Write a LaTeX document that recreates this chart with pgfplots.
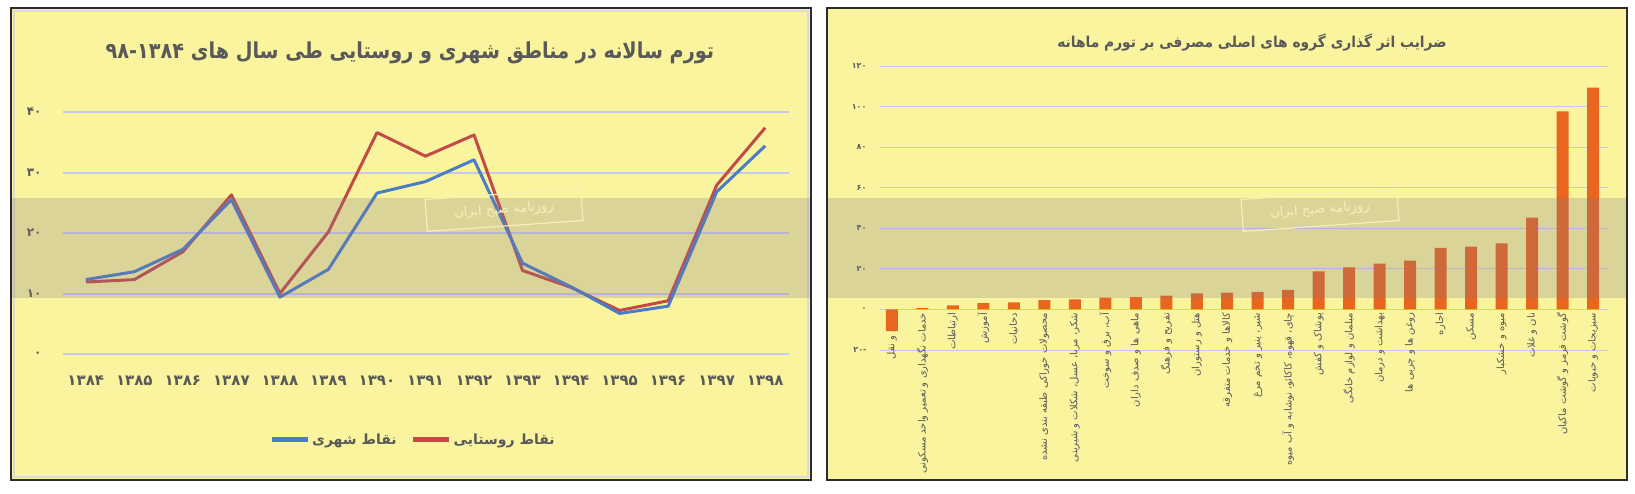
\documentclass[border=0pt]{standalone}
\usepackage{graphicx}
\usepackage{pgfplots}
\pgfplotsset{compat=1.18}
\usepackage{fontspec}
\newfontfamily\fa[Script=Arabic]{DejaVu Sans}
\TeXXeTstate=1

\definecolor{panel}{HTML}{FAF49E}
\definecolor{frame}{HTML}{2B2B2B}
\definecolor{gridc}{HTML}{C8C8EC}
\definecolor{txt}{HTML}{595959}
\definecolor{urban}{HTML}{4A7CC8}
\definecolor{rural}{HTML}{C24B48}
\definecolor{barc}{HTML}{E8661F}
\definecolor{band}{HTML}{82788C}
\definecolor{pale}{HTML}{F6F0B8}

% tick labels above the bars, grid below them
\pgfplotsset{
  layers/labels on top/.define layer set={
    axis background,axis grid,axis ticks,axis lines,pre main,main,
    axis tick labels,axis descriptions,axis foreground}{},
}

\begin{document}
\begin{tikzpicture}
% page and panels
\fill[white] (0pt,0pt) rectangle (1635pt,493pt);
\fill[panel] (11pt,13pt) rectangle (811pt,485pt);
\fill[panel] (827pt,13pt) rectangle (1627pt,485pt);
\draw[black!15, line width=1.5pt] (14pt,16pt) rectangle (808pt,482pt);

% left: annual inflation, urban vs rural
\begin{axis}[
  at={(63pt,139pt)}, anchor=south west,
  scale only axis, width=726pt, height=242pt,
  xmin=1383.53, xmax=1398.49, ymin=0, ymax=40,
  axis line style={draw=none}, tick style={draw=none},
  ymajorgrids, grid style={gridc, line width=2pt},
  xtick={1384,...,1398},
  xticklabels={۱۳۸۴,۱۳۸۵,۱۳۸۶,۱۳۸۷,۱۳۸۸,۱۳۸۹,۱۳۹۰,۱۳۹۱,۱۳۹۲,۱۳۹۳,۱۳۹۴,۱۳۹۵,۱۳۹۶,۱۳۹۷,۱۳۹۸},
  ytick={0,10,20,30,40},
  yticklabels={۰,۱۰,۲۰,۳۰,۴۰},
  xticklabel style={font=\fa\bfseries\fontsize{15}{18}\selectfont, text=txt, yshift=-18pt},
  yticklabel style={font=\fa\bfseries\fontsize{12}{14}\selectfont, text=txt, anchor=east, xshift=-18pt},
  reverse legend,
  legend columns=2,
  legend style={at={(0.482,-0.355)}, anchor=center, draw=none, fill=none,
    font=\fa\bfseries\fontsize{14}{17}\selectfont, text=txt,
    /tikz/every even column/.append style={column sep=12pt}},
  legend image code/.code={\draw[#1, line width=5pt] (0pt,0pt) -- (36pt,0pt);},
]
\addplot[rural, line width=3pt, line join=round] coordinates {
  (1384,11.9) (1385,12.3) (1386,16.9) (1387,26.3) (1388,10.0)
  (1389,20.2) (1390,36.6) (1391,32.7) (1392,36.2) (1393,13.8)
  (1394,11.0) (1395,7.2) (1396,8.8) (1397,27.9) (1398,37.4)
};
\addlegendentry{\beginR نقاط روستایی\endR}
\addplot[urban, line width=3pt, line join=round] coordinates {
  (1384,12.3) (1385,13.6) (1386,17.3) (1387,25.5) (1388,9.4)
  (1389,14.0) (1390,26.6) (1391,28.5) (1392,32.1) (1393,15.0)
  (1394,11.1) (1395,6.7) (1396,7.9) (1397,26.8) (1398,34.4)
};
\addlegendentry{\beginR نقاط شهری\endR}
\end{axis}

% right: contribution of main groups to monthly inflation
\begin{axis}[
  set layers=labels on top,
  at={(880pt,143pt)}, anchor=south west,
  scale only axis, width=728pt, height=284pt,
  xmin=-0.39, xmax=23.49, ymin=-20, ymax=120,
  axis x line*=middle, axis y line*=left,
  x axis line style={draw=gridc, line width=0.8pt},
  y axis line style={draw=none},
  hide obscured x ticks=false, hide obscured y ticks=false,
  major tick length=0pt,
  ymajorgrids, grid style={gridc, line width=0.8pt},
  ytick={-20,0,20,40,60,80,100,120},
  yticklabels={-۲۰,۰,۲۰,۴۰,۶۰,۸۰,۱۰۰,۱۲۰},
  yticklabel style={font=\fa\bfseries\fontsize{8}{10}\selectfont, text=txt, anchor=east, xshift=-10pt},
  xtick={0,...,23},
  xticklabels={
    {\beginR حمل و نقل\endR},
    {\beginR خدمات نگهداری و تعمیر واحد مسکونی\endR},
    {\beginR ارتباطات\endR},
    {\beginR آموزش\endR},
    {\beginR دخانیات\endR},
    {\beginR محصولات خوراکی طبقه بندی نشده\endR},
    {\beginR شکر، مربا، عسل، شکلات و شیرینی\endR},
    {\beginR آب، برق و سوخت\endR},
    {\beginR ماهی ها و صدف داران\endR},
    {\beginR تفریح و فرهنگ\endR},
    {\beginR هتل و رستوران\endR},
    {\beginR کالاها و خدمات متفرقه\endR},
    {\beginR شیر، پنیر و تخم مرغ\endR},
    {\beginR چای، قهوه، کاکائو، نوشابه و آب میوه\endR},
    {\beginR پوشاک و کفش\endR},
    {\beginR مبلمان و لوازم خانگی\endR},
    {\beginR بهداشت و درمان\endR},
    {\beginR روغن ها و چربی ها\endR},
    {\beginR اجاره\endR},
    {\beginR مسکن\endR},
    {\beginR میوه و خشکبار\endR},
    {\beginR نان و غلات\endR},
    {\beginR گوشت قرمز و گوشت ماکیان\endR},
    {\beginR سبزیجات و حبوبات\endR}},
  xticklabel style={font=\fa\fontsize{10}{12}\selectfont, text=txt, rotate=90, anchor=east},
  ybar, bar width=12pt,
]
\addplot[fill=barc, draw=none] coordinates {
  (0,-10.7) (1,0.7) (2,2.0) (3,3.1) (4,3.5) (5,4.6) (6,5.0) (7,5.8)
  (8,6.1) (9,6.8) (10,7.9) (11,8.3) (12,8.6) (13,9.6) (14,18.8) (15,20.7)
  (16,22.6) (17,24.0) (18,30.4) (19,30.9) (20,32.5) (21,45.2) (22,97.6) (23,109.3)
};
\end{axis}

% titles
\node[font=\fa\bfseries\fontsize{22}{26}\selectfont, text=txt] at (410pt,440pt)
  {\scalebox{0.875}[1]{\beginR تورم سالانه در مناطق شهری و روستایی طی سال های \beginL۹۸-۱۳۸۴\endL\endR}};
\node[font=\fa\bfseries\fontsize{15}{18}\selectfont, text=txt] at (1252pt,450pt)
  {\scalebox{0.92}[1]{\beginR ضرایب اثر گذاری گروه های اصلی مصرفی بر تورم ماهانه\endR}};

% watermark: band and stamps
\fill[band, opacity=0.25] (11pt,195pt) rectangle (811pt,295pt);
\fill[band, opacity=0.25] (827pt,195pt) rectangle (1627pt,295pt);
\node[rotate=4, draw=pale, line width=1.2pt, text=pale, font=\fa\fontsize{13}{15}\selectfont,
  minimum width=156pt, minimum height=32pt] at (504pt,283pt) {\beginR روزنامه صبح ایران\endR};
\node[rotate=4, draw=pale, line width=1.2pt, text=pale, font=\fa\fontsize{13}{15}\selectfont,
  minimum width=156pt, minimum height=32pt] at (1320pt,283pt) {\beginR روزنامه صبح ایران\endR};

% frames
\draw[frame, line width=1.5pt] (11pt,13pt) rectangle (811pt,485pt);
\draw[frame, line width=1.5pt] (827pt,13pt) rectangle (1627pt,485pt);
\end{tikzpicture}
\end{document}
